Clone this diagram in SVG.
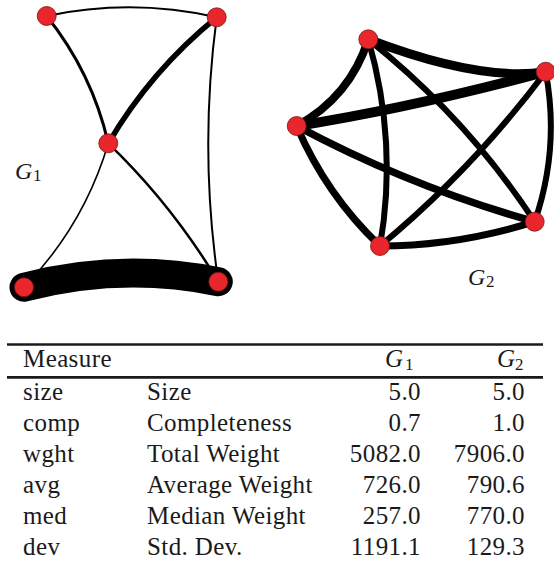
<svg xmlns="http://www.w3.org/2000/svg" width="554" height="569" viewBox="0 0 554 569">
<style>
.e{fill:none;stroke:#000;stroke-linecap:round}
.n{fill:#e8262b;stroke:#7a1515;stroke-width:0.8}
text{font-family:"Liberation Serif","DejaVu Serif","Times New Roman",serif;font-size:25px;fill:#1a1a1a}
.c{letter-spacing:0.4px}
.i{font-style:italic}
.s{font-size:17px}
.r{text-anchor:end}
</style>
<rect width="554" height="569" fill="#fff"/>
<g id="connectors">
  <g id="g1-edges">
    <path class="e" d="M46.7,16 Q132,-2 216.7,17.3" stroke-width="2"/>
    <path class="e" d="M46.7,16 Q92,72.7 108.3,143.3" stroke-width="3"/>
    <path class="e" d="M216.7,17.3 Q151,70.4 108.3,143.3" stroke-width="5.5"/>
    <path class="e" d="M216.7,17.3 Q199,150 218.3,281.7" stroke-width="2"/>
    <path class="e" d="M108.3,143.3 Q84,225.5 24,287.3" stroke-width="1.6"/>
    <path class="e" d="M108.3,143.3 Q172.4,205 218.3,281.7" stroke-width="2.5"/>
    <path class="e" d="M24,287.3 Q121,262 218.3,281.7" stroke-width="29"/>
  </g>
  <g id="g2-edges">
    <path class="e" d="M368.3,39.3 Q480,82 545.7,71.7" stroke-width="9"/>
    <path class="e" d="M368.3,39.3 Q350,97 296.7,126" stroke-width="8"/>
    <path class="e" d="M296.7,126 Q415,107 545.7,71.7" stroke-width="10"/>
    <path class="e" d="M368.3,39.3 Q398,143 380,246" stroke-width="6"/>
    <path class="e" d="M368.3,39.3 Q466,117 534.7,221.7" stroke-width="6"/>
    <path class="e" d="M380,246 Q473,169 545.7,71.7" stroke-width="6"/>
    <path class="e" d="M296.7,126 Q410.8,187 534.7,221.7" stroke-width="7.5"/>
    <path class="e" d="M296.7,126 Q326,194.5 380,246" stroke-width="7"/>
    <path class="e" d="M380,246 Q457,246 534.7,221.7" stroke-width="7"/>
    <path class="e" d="M545.7,71.7 Q560,148 534.7,221.7" stroke-width="6"/>
  </g>
</g>
<g id="g1-n1"><circle class="n" cx="46.7" cy="16" r="9.5"/></g>
<g id="g1-n2"><circle class="n" cx="216.7" cy="17.3" r="9.5"/></g>
<g id="g1-n3"><circle class="n" cx="108.3" cy="143.3" r="9.5"/></g>
<g id="g1-n4"><circle class="n" cx="24" cy="287.3" r="9.5"/></g>
<g id="g1-n5"><circle class="n" cx="218.3" cy="281.7" r="9.5"/></g>
<g id="g2-n1"><circle class="n" cx="368.3" cy="39.3" r="9.5"/></g>
<g id="g2-n2"><circle class="n" cx="545.7" cy="71.7" r="9.5"/></g>
<g id="g2-n3"><circle class="n" cx="296.7" cy="126" r="9.5"/></g>
<g id="g2-n4"><circle class="n" cx="534.7" cy="221.7" r="9.5"/></g>
<g id="g2-n5"><circle class="n" cx="380" cy="246" r="9.5"/></g>
<g id="label-g1"><text class="i" x="15" y="179" style="font-size:24px">G</text><text class="s" x="33" y="181">1</text></g>
<g id="label-g2"><text class="i" x="468" y="285" style="font-size:24px">G</text><text class="s" x="486" y="287">2</text></g>
<g id="table">
  <line x1="7" y1="344.5" x2="543" y2="344.5" stroke="#1a1a1a" stroke-width="2.7"/>
  <line x1="7" y1="377.3" x2="543" y2="377.3" stroke="#1a1a1a" stroke-width="2.7"/>
  <text class="c" x="23" y="367">Measure</text>
  <text class="i" x="385" y="367">G</text><text class="s" x="405" y="370">1</text>
  <text class="i" x="497" y="367">G</text><text class="s" x="515" y="370">2</text>
  <g class="row"><text class="c" x="23" y="400">size</text><text class="c" x="147" y="400">Size</text><text class="c r" x="421" y="400">5.0</text><text class="c r" x="525" y="400">5.0</text></g>
  <g class="row"><text class="c" x="23" y="431">comp</text><text class="c" x="147" y="431">Completeness</text><text class="c r" x="421" y="431">0.7</text><text class="c r" x="525" y="431">1.0</text></g>
  <g class="row"><text class="c" x="23" y="462">wght</text><text class="c" x="147" y="462">Total Weight</text><text class="c r" x="421" y="462">5082.0</text><text class="c r" x="525" y="462">7906.0</text></g>
  <g class="row"><text class="c" x="23" y="493">avg</text><text class="c" x="147" y="493">Average Weight</text><text class="c r" x="421" y="493">726.0</text><text class="c r" x="525" y="493">790.6</text></g>
  <g class="row"><text class="c" x="23" y="524">med</text><text class="c" x="147" y="524">Median Weight</text><text class="c r" x="421" y="524">257.0</text><text class="c r" x="525" y="524">770.0</text></g>
  <g class="row"><text class="c" x="23" y="555">dev</text><text class="c" x="147" y="555">Std. Dev.</text><text class="c r" x="421" y="555">1191.1</text><text class="c r" x="525" y="555">129.3</text></g>
</g>
</svg>
